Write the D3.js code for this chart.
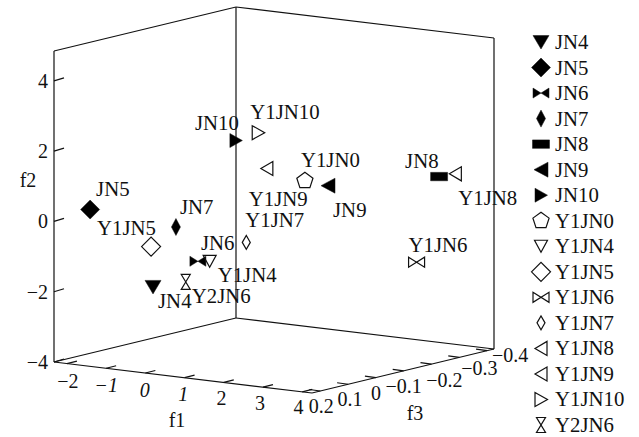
<!DOCTYPE html>
<html>
<head>
<meta charset="utf-8">
<script src="https://cdn.jsdelivr.net/npm/d3@7"></script>
<style>
html, body { margin: 0; background: white; }
text { font-family: "Liberation Serif", serif; fill: #111; }
.tick { font-size: 20px; }
.name { font-size: 20.8px; }
</style>
</head>
<body>
<script>
const names = ["JN4","JN5","JN6","JN7","JN8","JN9","JN10","Y1JN0","Y1JN4","Y1JN5","Y1JN6","Y1JN7","Y1JN8","Y1JN9","Y1JN10","Y2JN6"];
const f1 = [-1.08,-2.33,-0.29,-0.85,4.09,2.32,-0.03,1.73,0.01,-1.13,3.87,0.59,4.15,0.76,0.54,-0.6];
const f2 = [-2.04,0.09,-1.30,-0.40,1.22,1.01,1.98,1.07,-1.26,-0.9,-1.15,-0.74,1.21,1.29,2.28,-1.93];
const f3 = [0.05,0.1,0,0,-0.25,-0.1,-0.1,-0.1,0,0.05,-0.2,-0.05,-0.3,-0.1,-0.1,0];
const f1Ticks = [-2,-1,0,1,2,3,4];
const f2Ticks = [-4,-2,0,2,4];
const f3Ticks = [0.2,0.1,0,-0.1,-0.2,-0.3,-0.4];

const width = 639, height = 437;
const svg = d3.select("body").append("svg").attr("width", width).attr("height", height);

// oblique box: f1 runs along the front left edge, f3 along the front right edge
const f1Domain = [-2.33, 4.25], f3Domain = [0.23, -0.425], f2Domain = [-4, 4.85];
const x1 = d3.scaleLinear().domain(f1Domain).range([54, 312]);
const y1 = d3.scaleLinear().domain(f1Domain).range([362, 393]);
const x3 = d3.scaleLinear().domain(f3Domain).range([0, 182]);
const y3 = d3.scaleLinear().domain(f3Domain).range([0, -44]);
const y2 = d3.scaleLinear().domain(f2Domain).range([0, -311]);

const px = (a, c) => x1(a) + x3(c);
const py = (a, b, c) => y1(a) + y3(c) + y2(b);

const [a0, a1] = f1Domain, [c0, c1] = f3Domain, [b0, b1] = f2Domain;
const edges = [
  [[a0,b0,c0],[a1,b0,c0]], [[a1,b0,c0],[a1,b0,c1]], [[a1,b0,c1],[a0,b0,c1]], [[a0,b0,c1],[a0,b0,c0]],
  [[a0,b0,c0],[a0,b1,c0]], [[a0,b0,c1],[a0,b1,c1]], [[a1,b0,c1],[a1,b1,c1]],
  [[a0,b1,c0],[a0,b1,c1]], [[a0,b1,c1],[a1,b1,c1]]
];
const g = svg.append("g").attr("stroke", "#111").attr("stroke-width", 1.2).attr("fill", "none");
edges.forEach(e => g.append("line")
  .attr("x1", px(e[0][0], e[0][2])).attr("y1", py(e[0][0], e[0][1], e[0][2]))
  .attr("x2", px(e[1][0], e[1][2])).attr("y2", py(e[1][0], e[1][1], e[1][2])));

const minus = v => String(v).replace("-", "\u2212");

// ticks
f2Ticks.forEach(t => {
  g.append("line").attr("x1", px(a0, c0)).attr("y1", py(a0, t, c0))
    .attr("x2", px(a0, c0) + 10).attr("y2", py(a0, t, c0) - 3);
  svg.append("text").attr("class", "tick").attr("text-anchor", "end")
    .attr("x", px(a0, c0) - 6).attr("y", py(a0, t, c0) + 7).text(minus(t));
});
f1Ticks.forEach(t => {
  g.append("line").attr("x1", px(t, c0)).attr("y1", py(t, b0, c0))
    .attr("x2", px(t, c0) + 10).attr("y2", py(t, b0, c0) - 2.5);
  svg.append("text").attr("class", "tick").attr("text-anchor", "middle")
    .attr("font-style", t >= -1 && t <= 1 ? "italic" : "normal")
    .attr("x", px(t, c0) + 1 - (t + 2) * 0.8).attr("y", py(t, b0, c0) + 24.5 - (t + 2) * 0.4).text(minus(t));
});
// the right hand labels are crowded, each one is nudged by hand
const f3LabelDx = [1,2,0,0,13,20,23];
const f3LabelDy = [22,22,22,22,23,18,11];
f3Ticks.forEach((t, i) => {
  g.append("line").attr("x1", px(a1, t)).attr("y1", py(a1, b0, t))
    .attr("x2", px(a1, t) - 11).attr("y2", py(a1, b0, t) - 1.5);
  svg.append("text").attr("class", "tick").attr("text-anchor", "middle")
    .attr("x", px(a1, t) + f3LabelDx[i]).attr("y", py(a1, b0, t) + f3LabelDy[i]).text(minus(t));
});
svg.append("text").attr("class", "tick").attr("x", 177).attr("y", 427).attr("text-anchor", "middle").text("f1");
svg.append("text").attr("class", "tick").attr("x", 415).attr("y", 420).attr("text-anchor", "middle").text("f3");
svg.append("text").attr("class", "tick").attr("x", 28).attr("y", 187).attr("text-anchor", "middle").text("f2");

// marker shapes, drawn around 0,0
const poly = pts => "M" + pts.join("L") + "Z";
const shapes = {
  down: poly([[-8,-6.5],[8,-6.5],[0,7]]),
  openDown: poly([[-6.5,-6],[6.5,-6],[0,6]]),
  diamond: poly([[-9.5,0],[0,-9.5],[9.5,0],[0,9.5]]),
  bowtie: poly([[-8,-5],[8,5],[8,-5],[-8,5]]),
  thin: poly([[-4.5,0],[0,-8.5],[4.5,0],[0,8.5]]),
  openThin: poly([[-4,0],[0,-7],[4,0],[0,7]]),
  rect: poly([[-8.5,-4.2],[8.5,-4.2],[8.5,4.2],[-8.5,4.2]]),
  left: poly([[-7,0],[7,-7.5],[7,7.5]]),
  openLeft: poly([[-6,0],[6,-7],[6,7]]),
  right: poly([[-6,-7],[6.5,0],[-6,7]]),
  penta: poly(d3.range(5).map(i => {
    const t = (-90 + i * 72) * Math.PI / 180;
    return [8.5 * Math.cos(t), 8.5 * Math.sin(t)];
  })),
  hour: poly([[-4.5,-7.5],[4.5,-7.5],[-4.5,7.5],[4.5,7.5]])
};
const markerShape = ["down","diamond","bowtie","thin","rect","left","right","penta","openDown","diamond","bowtie","openThin","openLeft","openLeft","right","hour"];
const filled = names.map(n => n.startsWith("JN"));

const marker = (sel, i, x, y) => sel.append("path")
  .attr("d", shapes[markerShape[i]])
  .attr("transform", `translate(${x},${y})`)
  .attr("fill", filled[i] ? "#000" : "none")
  .attr("stroke", "#111")
  .attr("stroke-width", filled[i] ? 0.5 : 1.2);

names.forEach((n, i) => marker(svg, i, px(f1[i], f3[i]), py(f1[i], f2[i], f3[i])));

// point labels sit beside their markers, offsets in px
const labelDx = [5,6,3,4,-34,5,-41,-4,8,-54,-8,-1,3,-18,-8,6];
const labelDy = [21,-14,-11,-13,-9,31,-11,-14,21,-12,-10,-15,31,38,-14,21];
names.forEach((n, i) => svg.append("text").attr("class", "name")
  .attr("x", px(f1[i], f3[i]) + labelDx[i])
  .attr("y", py(f1[i], f2[i], f3[i]) + labelDy[i]).text(n));

// legend
const legendY = d3.scalePoint().domain(names).range([42, 425]);
names.forEach((n, i) => {
  marker(svg, i, 541, legendY(n));
  svg.append("text").attr("class", "name").attr("x", 555).attr("y", legendY(n) + 7).text(n);
});
</script>
</body>
</html>
